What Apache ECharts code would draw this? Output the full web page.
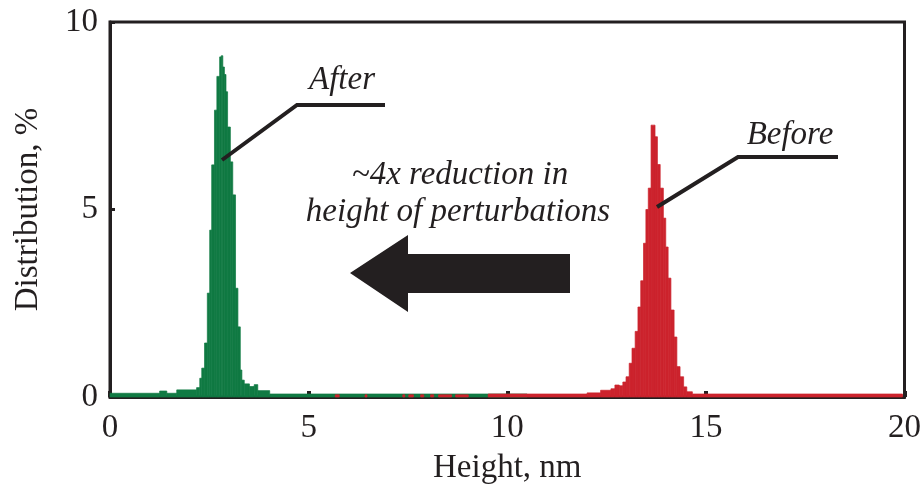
<!DOCTYPE html>
<html>
<head>
<meta charset="utf-8">
<script src="https://cdn.jsdelivr.net/npm/echarts@6/dist/echarts.min.js"></script>
<style>
  html, body { margin: 0; padding: 0; background: #fff; }
  #chart { width: 924px; height: 492px; }
</style>
</head>
<body>
<div id="chart"></div>
<script>
// histogram bins: [from nm, to nm, distribution %]
const afterBins = [
  [0, 1.25, 0.1], [1.25, 1.43, 0.16], [1.43, 1.68, 0.1], [1.68, 2.18, 0.19], [2.18, 2.26, 0.25],
  [2.26, 2.31, 0.5], [2.31, 2.38, 0.77], [2.38, 2.45, 1.44], [2.45, 2.51, 2.77], [2.51, 2.56, 4.45],
  [2.56, 2.63, 6.19], [2.63, 2.69, 7.65], [2.69, 2.76, 8.55], [2.76, 2.8, 9.07], [2.8, 2.84, 9.1],
  [2.84, 2.88, 8.8], [2.88, 2.92, 8.6], [2.92, 2.96, 8.14], [2.96, 3.03, 7.2], [3.03, 3.09, 6.27],
  [3.09, 3.16, 5.39], [3.16, 3.22, 2.9], [3.22, 3.28, 1.87], [3.28, 3.32, 0.72], [3.32, 3.38, 0.45],
  [3.38, 3.51, 0.35], [3.51, 3.63, 0.28], [3.63, 3.72, 0.33], [3.72, 4.02, 0.17], [4.02, 10.5, 0.08]
]
const beforeBins = [
  [5.67, 5.77, 0.06], [6.42, 6.47, 0.06], [7.37, 7.42, 0.06], [7.52, 7.64, 0.06], [7.82, 7.9, 0.06],
  [8.07, 8.15, 0.06], [8.27, 8.6, 0.06], [8.7, 9.02, 0.06], [9.52, 12.01, 0.08],
  [12.01, 12.35, 0.11], [12.35, 12.61, 0.18], [12.61, 12.71, 0.22], [12.71, 12.82, 0.32], [12.82, 12.91, 0.3],
  [12.91, 12.99, 0.4], [12.99, 13.07, 0.54], [13.07, 13.14, 0.9], [13.14, 13.22, 1.3], [13.22, 13.29, 1.75],
  [13.29, 13.36, 2.4], [13.36, 13.43, 3.1], [13.43, 13.49, 4.1], [13.49, 13.55, 5.0], [13.55, 13.62, 5.57],
  [13.62, 13.72, 7.25], [13.72, 13.78, 6.94], [13.78, 13.85, 6.2], [13.85, 13.93, 5.57], [13.93, 13.99, 4.77],
  [13.99, 14.05, 4.0], [14.05, 14.12, 3.17], [14.12, 14.2, 2.32], [14.2, 14.27, 1.6], [14.27, 14.35, 0.81],
  [14.35, 14.44, 0.54], [14.44, 14.52, 0.27], [14.52, 14.66, 0.14], [14.66, 19.95, 0.08]
]
const xTicks = [0, 5, 10, 15, 20]
const yTicks = [0, 5, 10]

const ink = '#231f20'
const serif = '"Liberation Serif", "Times New Roman", serif'
const noteFont = 'italic 33px ' + serif

function histItem (color) {
  return function (params, api) {
    const p0 = api.coord([api.value(0), api.value(2)])
    const p1 = api.coord([api.value(1), 0])
    return {
      type: 'rect',
      shape: { x: p0[0], y: p0[1], width: p1[0] - p0[0], height: p1[1] - p0[1] },
      style: { fill: color, stroke: color, lineWidth: 0.7 }
    }
  }
}

const chart = echarts.init(document.getElementById('chart'), null, { renderer: 'canvas' })

chart.setOption({
  animation: false,
  backgroundColor: '#fff',
  grid: {
    left: 110, right: 17, top: 22, bottom: 95,
    show: true, borderColor: ink, borderWidth: 3, backgroundColor: 'transparent'
  },
  xAxis: {
    type: 'value',
    min: xTicks[0],
    max: xTicks[xTicks.length - 1],
    interval: 5,
    name: 'Height, nm',
    nameLocation: 'middle',
    nameGap: 55,
    nameTextStyle: { fontFamily: serif, fontSize: 33, color: ink },
    axisLine: { show: true, lineStyle: { color: ink, width: 3 } },
    axisTick: { show: true, inside: true, length: 6, lineStyle: { color: ink, width: 4 } },
    axisLabel: { fontFamily: serif, fontSize: 33, color: ink, margin: 15 },
    splitLine: { show: false }
  },
  yAxis: {
    type: 'value',
    min: yTicks[0],
    max: yTicks[yTicks.length - 1],
    interval: 5,
    name: 'Distribution, %',
    nameLocation: 'middle',
    nameGap: 65,
    nameTextStyle: { fontFamily: serif, fontSize: 33, color: ink },
    axisLine: { show: true, lineStyle: { color: ink, width: 3 } },
    axisTick: { show: true, inside: true, length: 5, lineStyle: { color: ink, width: 3 } },
    axisLabel: { fontFamily: serif, fontSize: 33, color: ink, margin: 12 },
    splitLine: { show: false }
  },
  series: [
    {
      name: 'After',
      type: 'custom',
      renderItem: histItem('#107a43'),
      encode: { x: [0, 1], y: 2 },
      data: afterBins,
      z: 2
    },
    {
      name: 'Before',
      type: 'custom',
      renderItem: histItem('#cc232d'),
      encode: { x: [0, 1], y: 2 },
      data: beforeBins,
      z: 3
    }
  ],
  graphic: [
    // leader lines
    { type: 'polyline', shape: { points: [[222, 160], [297, 105], [385, 105]] }, style: { stroke: ink, lineWidth: 4, fill: null }, z: 10 },
    { type: 'polyline', shape: { points: [[657, 207], [738, 157], [838, 157]] }, style: { stroke: ink, lineWidth: 4, fill: null }, z: 10 },
    // arrow
    {
      type: 'polygon',
      shape: { points: [[350, 273], [408, 235], [408, 254], [570, 254], [570, 293], [408, 293], [408, 312]] },
      style: { fill: ink },
      z: 10
    },
    { type: 'text', x: 342, y: 80, style: { text: 'After', font: noteFont, fill: ink, align: 'center', verticalAlign: 'middle' }, z: 10 },
    { type: 'text', x: 790, y: 135, style: { text: 'Before', font: noteFont, fill: ink, align: 'center', verticalAlign: 'middle' }, z: 10 },
    { type: 'text', x: 460, y: 175, style: { text: '~4x reduction in', font: noteFont, fill: ink, align: 'center', verticalAlign: 'middle' }, z: 10 },
    { type: 'text', x: 458, y: 212, style: { text: 'height of perturbations', font: noteFont, fill: ink, align: 'center', verticalAlign: 'middle' }, z: 10 }
  ]
})

window.onresize = () => {
  chart.resize()
}
</script>
</body>
</html>
